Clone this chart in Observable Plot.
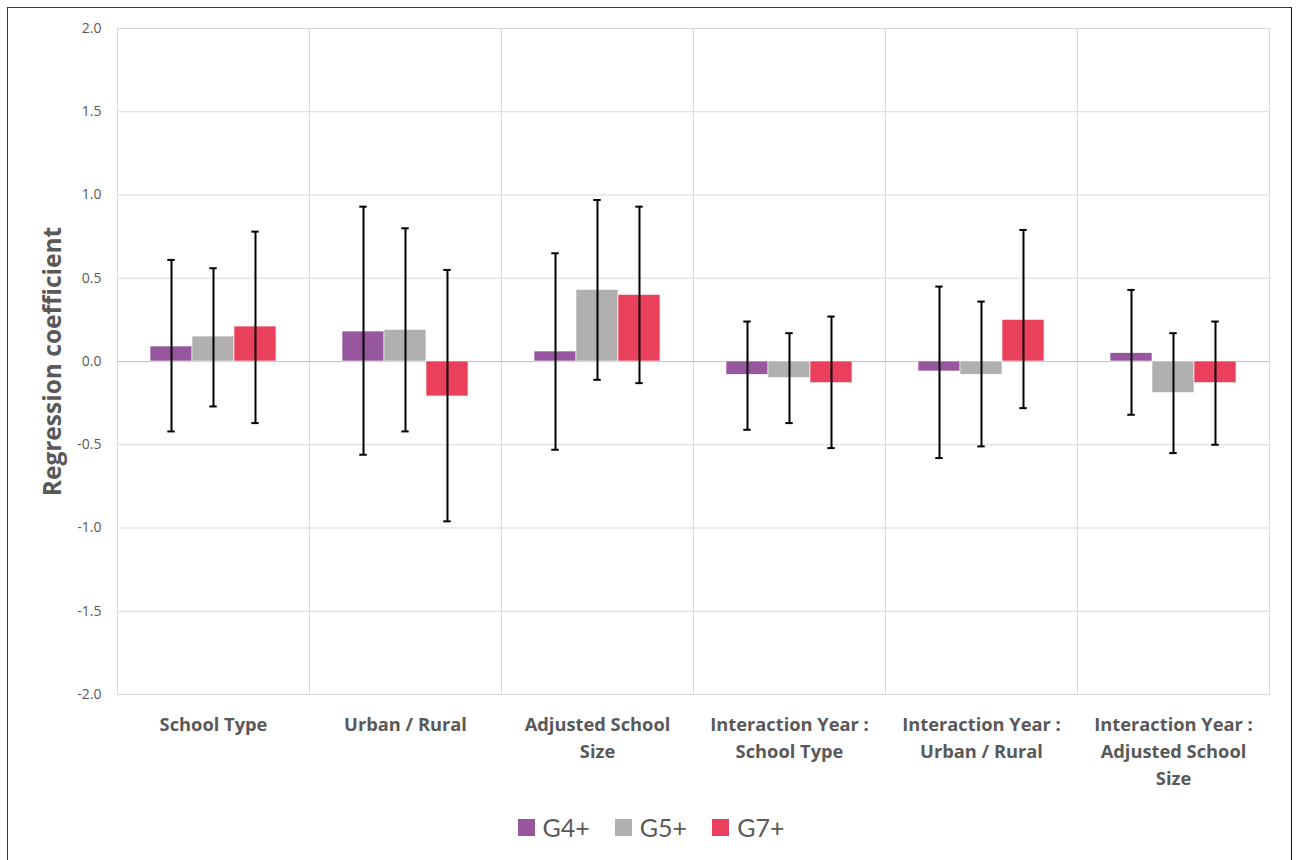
<!DOCTYPE html>
<html>
<head>
<meta charset="utf-8">
<script src="https://cdn.jsdelivr.net/npm/d3@7"></script>
<script src="https://cdn.jsdelivr.net/npm/@observablehq/plot@0.6"></script>
<style>
  html, body { margin: 0; padding: 0; background: #fff; }
  #wrap { position: relative; width: 1298px; height: 860px; overflow: hidden; font-family: Lato, "Open Sans", sans-serif; }
  #border { position: absolute; left: 7px; top: 7px; width: 1283px; height: 900px; border-left: 1.5px solid #3a3a3a; border-top: 1.5px solid #3a3a3a; border-right: 1.5px solid #111; }
  #chart { position: absolute; left: 0; top: 0; }
  #legend { position: absolute; left: 2px; width: 1298px; top: 812px; display: flex; justify-content: center; gap: 25px; color: #595959; font-size: 25px; }
  #legend .item { display: flex; align-items: center; gap: 8px; }
  #legend .sw { width: 17px; height: 17px; display: inline-block; }
</style>
</head>
<body>
<div id="wrap">
  <div id="border"></div>
  <div id="chart"></div>
  <div id="legend"></div>
</div>
<script>
const categories = ["School Type", "Urban / Rural", "Adjusted School Size", "Interaction Year : School Type", "Interaction Year : Urban / Rural", "Interaction Year : Adjusted School Size"];
const categoryLabels = ["School Type", "Urban / Rural", "Adjusted School\nSize", "Interaction Year :\nSchool Type", "Interaction Year :\nUrban / Rural", "Interaction Year :\nAdjusted School\nSize"];
const series = ["G4+", "G5+", "G7+"];
const seriesColors = ["#97579f", "#b0b0b0", "#e9415d"];

const g4 = [0.09, 0.18, 0.06, -0.08, -0.06, 0.05];
const g4Low = [-0.42, -0.56, -0.53, -0.41, -0.58, -0.32];
const g4High = [0.61, 0.93, 0.65, 0.24, 0.45, 0.43];

const g5 = [0.15, 0.19, 0.43, -0.10, -0.08, -0.19];
const g5Low = [-0.27, -0.42, -0.11, -0.37, -0.51, -0.55];
const g5High = [0.56, 0.80, 0.97, 0.17, 0.36, 0.17];

const g7 = [0.21, -0.21, 0.40, -0.13, 0.25, -0.13];
const g7Low = [-0.37, -0.96, -0.13, -0.52, -0.28, -0.50];
const g7High = [0.78, 0.55, 0.93, 0.27, 0.79, 0.24];

const yTicks = [-2.0, -1.5, -1.0, -0.5, 0.0, 0.5, 1.0, 1.5, 2.0];
const yLabel = "Regression coefficient";

const values = [g4, g5, g7], lows = [g4Low, g5Low, g7Low], highs = [g4High, g5High, g7High];
const rows = [];
categories.forEach((c, i) => series.forEach((s, j) => {
  rows.push({cat: c, series: s, value: values[j][i], lo: lows[j][i], hi: highs[j][i]});
}));
const catRows = categories.map((c, i) => ({cat: c, label: categoryLabels[i]}));

const chart = Plot.plot({
  width: 1298,
  height: 800,
  marginLeft: 116,
  marginRight: 28,
  marginTop: 28,
  marginBottom: 106,
  style: {fontFamily: "'Open Sans', Lato, sans-serif", fontSize: "14px", color: "#595959", background: "transparent"},
  fx: {domain: categories, padding: 0, axis: null},
  x: {domain: series, paddingInner: 0, paddingOuter: 0.75, axis: null},
  y: {domain: [-2, 2], ticks: yTicks, tickFormat: d => d.toFixed(1), tickSize: 0, tickPadding: 16, label: null},
  color: {domain: series, range: seriesColors},
  marks: [
    Plot.ruleY(yTicks, {stroke: "#d9d9d9", strokeWidth: 1}),
    Plot.frame({stroke: "#d9d9d9", strokeWidth: 1}),
    Plot.ruleY([0], {stroke: "#c4c4c4", strokeWidth: 1.2}),
    Plot.barY(rows, {fx: "cat", x: "series", y: "value", fill: "series", stroke: "#fff", strokeWidth: 0.6}),
    Plot.ruleX(rows, {fx: "cat", x: "series", y1: "lo", y2: "hi", stroke: "#000", strokeWidth: 2}),
    Plot.tickY(rows, {fx: "cat", x: "series", y: "lo", stroke: "#000", strokeWidth: 2, insetLeft: 17.3, insetRight: 17.3}),
    Plot.tickY(rows, {fx: "cat", x: "series", y: "hi", stroke: "#000", strokeWidth: 2, insetLeft: 17.3, insetRight: 17.3}),
    Plot.text(catRows, {fx: "cat", text: "label", frameAnchor: "bottom", dy: 17, lineAnchor: "top", lineHeight: 1.48, fontSize: 18.3, fontWeight: "bold", fill: "#595959"}),
    Plot.text([{cat: categories[0], t: yLabel}], {fx: "cat", text: "t", frameAnchor: "left", textAnchor: "middle", dx: -64, rotate: -90, fontSize: 24.5, fontWeight: "bold", fill: "#595959"})
  ]
});
document.getElementById("chart").appendChild(chart);

const legend = document.getElementById("legend");
series.forEach((s, i) => {
  const item = document.createElement("div");
  item.className = "item";
  const sw = document.createElement("span");
  sw.className = "sw";
  sw.style.background = seriesColors[i];
  const label = document.createElement("span");
  label.textContent = s;
  item.appendChild(sw);
  item.appendChild(label);
  legend.appendChild(item);
});
</script>
</body>
</html>
